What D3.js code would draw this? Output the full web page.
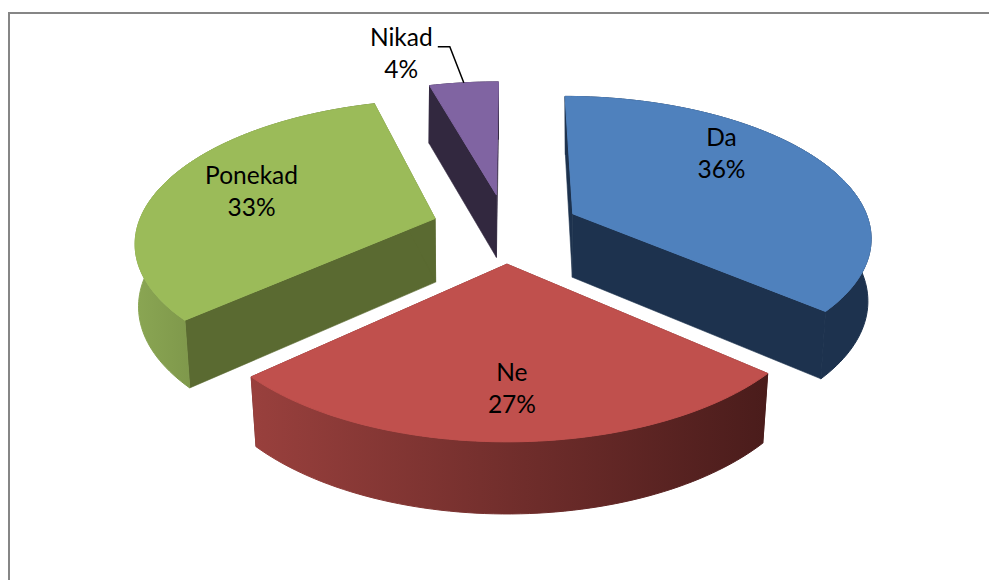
<!DOCTYPE html>
<html>
<head>
<meta charset="utf-8">
<script src="https://cdn.jsdelivr.net/npm/d3@7"></script>
<style>
  html, body { margin: 0; padding: 0; background: #fff; }
  svg { display: block; }
  text { font-family: Lato, "Open Sans", sans-serif; font-size: 24.5px; fill: #000; }
</style>
</head>
<body>
<div id="pieChart"></div>
<script>
var categories = ["Da", "Ne", "Ponekad", "Nikad"];
var percents = [36.3, 26.9, 32.4, 4.4];

var topColors = ["#4f81bd", "#c0504d", "#9bbb59", "#8064a2"];
var sideColors = ["#1d324e", "#4a1c1b", "#5a6a31", "#32283f"];
var wallLeftColors = ["#1d324e", "#99403d", "#8aa653", "#32283f"];
var labelTexts = ["36%", "27%", "33%", "4%"];

var width = 989, height = 580;

// fake 3d settings, fitted by eye to the picture
var cx = 506, cy = 228;
var rx = 298, ry = 139;
var persp = 0.15;
var explode = 0.25;
var depth = 64;
var rotation = 0.2 * Math.PI / 180;

var svg = d3.select("div#pieChart")
  .append("svg")
  .attr("width", width)
  .attr("height", height);

// chart border, only top and left are visible
svg.append("path")
  .attr("d", d3.line()([[9, height], [9, 13], [width, 13]]))
  .attr("fill", "none")
  .attr("stroke", "#868686")
  .attr("stroke-width", 2);

// u goes right, w goes to the back, ground plane of the pie
function project(u, w, bottom) {
  var s = 1 / (1 + persp * w);
  var x = cx + rx * u * s;
  var y = cy - ry * w * s;
  if (bottom) {
    x = cx + (x - cx) * (0.992 + 0.012 * w);
    y = y + depth / (1 + 0.09 * w);
  }
  return [x, y];
}

function groundPoint(d, r, angle) {
  var mid = (d.startAngle + d.endAngle) / 2;
  return [
    explode * Math.sin(mid) + r * Math.sin(angle),
    explode * Math.cos(mid) + r * Math.cos(angle)
  ];
}

function rimPoints(d, bottom) {
  var steps = Math.max(4, Math.round((d.endAngle - d.startAngle) * 40));
  return d3.range(steps + 1).map(function (i) {
    var a = d.startAngle + (d.endAngle - d.startAngle) * i / steps;
    var g = groundPoint(d, 1, a);
    return project(g[0], g[1], bottom);
  });
}

function apexPoint(d, bottom) {
  var g = groundPoint(d, 0, 0);
  return project(g[0], g[1], bottom);
}

var pie = d3.pie()
  .sort(null)
  .startAngle(rotation)
  .endAngle(2 * Math.PI + rotation)
  .value(function (d) { return d; });
var slices = pie(percents);
var line = d3.line().curve(d3.curveLinear);

var defs = svg.append("defs");
slices.forEach(function (d, i) {
  var pts = rimPoints(d, false);
  var grad = defs.append("linearGradient")
    .attr("id", "wall" + i)
    .attr("gradientUnits", "userSpaceOnUse")
    .attr("x1", d3.min(pts, function (p) { return p[0]; }))
    .attr("x2", d3.max(pts, function (p) { return p[0]; }))
    .attr("y1", 0)
    .attr("y2", 0);
  grad.append("stop").attr("offset", "0%").attr("stop-color", wallLeftColors[i]);
  grad.append("stop").attr("offset", "100%").attr("stop-color", sideColors[i]);
});

// Back slices first so the front ones paint over them
var order = d3.range(slices.length).sort(function (a, b) {
  return groundPoint(slices[b], 0, 0)[1] - groundPoint(slices[a], 0, 0)[1];
});

order.forEach(function (i) {
  var d = slices[i];
  var g = svg.append("g").attr("class", "slice");
  var topRim = rimPoints(d, false);
  var botRim = rimPoints(d, true);
  var apexTop = apexPoint(d, false);
  var apexBot = apexPoint(d, true);

  // radial walls
  [[topRim[0], botRim[0]], [topRim[topRim.length - 1], botRim[botRim.length - 1]]].forEach(function (e) {
    g.append("path")
      .attr("d", line([apexTop, e[0], e[1], apexBot]) + "Z")
      .attr("fill", sideColors[i])
      .attr("stroke", sideColors[i])
      .attr("stroke-width", 0.6);
  });

  // outer wall
  g.append("path")
    .attr("d", line(topRim.concat(botRim.slice().reverse())) + "Z")
    .attr("fill", "url(#wall" + i + ")")
    .attr("stroke", "url(#wall" + i + ")")
    .attr("stroke-width", 1);

  // top face
  g.append("path")
    .attr("d", line([apexTop].concat(topRim)) + "Z")
    .attr("fill", topColors[i])
    .attr("stroke", topColors[i])
    .attr("stroke-width", 1);
});

// labels sit at a radius along the slice middle, with small nudges
var labelRadius = 0.68;
var labelNudge = [[-23, -31], [2, 3], [2, -10], [-72, -69]];
slices.forEach(function (d, i) {
  var mid = (d.startAngle + d.endAngle) / 2;
  var g = groundPoint(d, labelRadius, mid);
  var p = project(g[0], g[1], false);
  var t = svg.append("text")
    .attr("text-anchor", "middle")
    .attr("x", p[0] + labelNudge[i][0])
    .attr("y", p[1] + labelNudge[i][1]);
  t.append("tspan").attr("x", p[0] + labelNudge[i][0]).text(categories[i]);
  t.append("tspan").attr("x", p[0] + labelNudge[i][0]).attr("dy", 32).text(labelTexts[i]);
});

// leader line for the small slice
var nikad = slices[3];
var nikadMid = (nikad.startAngle + nikad.endAngle) / 2;
var leaderEnd = groundPoint(nikad, 1, nikadMid);
var leaderP = project(leaderEnd[0], leaderEnd[1], false);
svg.append("path")
  .attr("d", line([[leaderP[0] - 26, leaderP[1] - 36], [leaderP[0] - 14, leaderP[1] - 36], leaderP]))
  .attr("fill", "none")
  .attr("stroke", "#000")
  .attr("stroke-width", 1.5);
</script>
</body>
</html>
